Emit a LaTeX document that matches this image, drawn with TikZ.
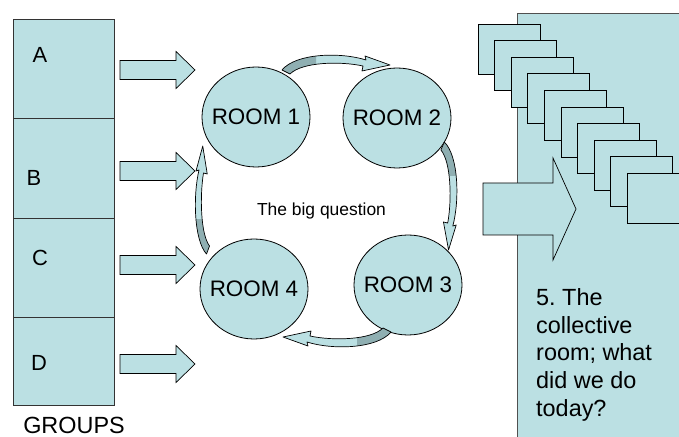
\documentclass[tikz,border=0pt]{standalone}
\usepackage{fontspec}
\setmainfont{Liberation Sans}
\frenchspacing
\usetikzlibrary{shapes.geometric,positioning}

\definecolor{roomfill}{HTML}{BBE0E3}
\definecolor{taildark}{HTML}{8FAFB2}
\definecolor{framegray}{HTML}{505050}

% outline of one curved ribbon arrow, tail on the left, head on the right
\newcommand{\ribbonoutline}{(-54,2) .. controls (-40,-15) and (5,-16) .. (30,-8)
  -- (29,-12) -- (54,-3) -- (26,3) -- (27,-2)
  .. controls (4,-7) and (-34,-6) .. (-46,6) -- cycle}

\tikzset{
  ribbon/.pic={
    \fill[roomfill] \ribbonoutline;
    \begin{scope}
      \clip (-60,-20) rectangle (-20,12);
      \fill[taildark] \ribbonoutline;
    \end{scope}
    \draw[line width=0.7bp, line join=round] \ribbonoutline;
  }
}

\begin{document}
\begin{tikzpicture}[x=1bp, y=-1bp,
    groupbox/.style={draw=black!80, fill=roomfill, line width=0.8bp, minimum width=101bp,
      inner sep=0pt, outer sep=0pt},
    grouplabel/.style={font=\fontsize{22}{26}\selectfont, inner sep=0pt},
    room/.style={ellipse, draw, fill=roomfill, line width=0.8bp, minimum width=108bp,
      minimum height=100bp, inner sep=0pt},
    roomtext/.style={font=\fontsize{22.5}{26}\selectfont, inner sep=0pt},
    blockarrow/.style={draw, fill=roomfill, line width=0.7bp, line join=miter},
    card/.style={draw, fill=roomfill, line width=0.8bp}]
  \useasboundingbox (0,0) rectangle (679,437);

  % groups on the left
  \node[groupbox, minimum height=99bp, anchor=north west] (gA) at (13,19) {};
  \node[groupbox, minimum height=100bp, below=0pt of gA] (gB) {};
  \node[groupbox, minimum height=99bp, below=0pt of gB] (gC) {};
  \node[groupbox, minimum height=88bp, below=0pt of gC] (gD) {};
  \node[grouplabel] (lA) at ([shift={(27,36)}]gA.north west) {A};
  \node[grouplabel] (lB) at ([shift={(21,60)}]gB.north west) {B};
  \node[grouplabel] (lC) at ([shift={(27,40)}]gC.north west) {C};
  \node[grouplabel] (lD) at ([shift={(26,46)}]gD.north west) {D};
  \node[font=\fontsize{23.5}{28}\selectfont, inner sep=0pt] (groups) at (74,425) {GROUPS};

  % block arrows towards the rooms
  \foreach \y in {70,171,265,364}
    \draw[blockarrow] (120,\y-9.5) -- (176,\y-9.5) -- (176,\y-18.5) -- (195,\y)
      -- (176,\y+18.5) -- (176,\y+9.5) -- (120,\y+9.5) -- cycle;

  % the four rooms
  \node[room, label={[roomtext]center:ROOM 1}] (r1) at (256,117) {};
  \node[room, label={[roomtext]center:ROOM 2}] (r2) at (397,118) {};
  \node[room, label={[roomtext]center:ROOM 3}] (r3) at (408,285) {};
  \node[room, label={[roomtext]center:ROOM 4}] (r4) at (254,289) {};
  \node[font=\fontsize{17.5}{21}\selectfont, inner sep=0pt, anchor=base] (quest) at (321.5,216) {The big question};

  % curved arrows, clockwise
  \pic at (336,68) {ribbon};
  \pic[rotate=-90, yscale=0.85] at (446,196) {ribbon};
  \pic[rotate=180] at (337,334) {ribbon};
  \pic[rotate=90, yscale=0.75] at (205,200) {ribbon};

  % the collective room
  \fill[roomfill] (517,13) rectangle (690,445);
  \draw[framegray, line width=0.9bp] (690,13) -- (517,13) -- (517,445);
  \foreach \i in {0,...,9}
    \draw[card] ({478+16.6*\i},{24+16.6*\i}) rectangle +(62,50);
  \draw[blockarrow] (483,183) -- (553,183) -- (553,158) -- (576,209) -- (553,260)
    -- (553,235) -- (483,235) -- cycle;
  \node[font=\fontsize{23.5}{28}\selectfont, inner sep=0pt, anchor=north west, align=left]
    (collective) at (536,288) {5. The\\collective\\room; what\\did we do\\today?};
\end{tikzpicture}
\end{document}
